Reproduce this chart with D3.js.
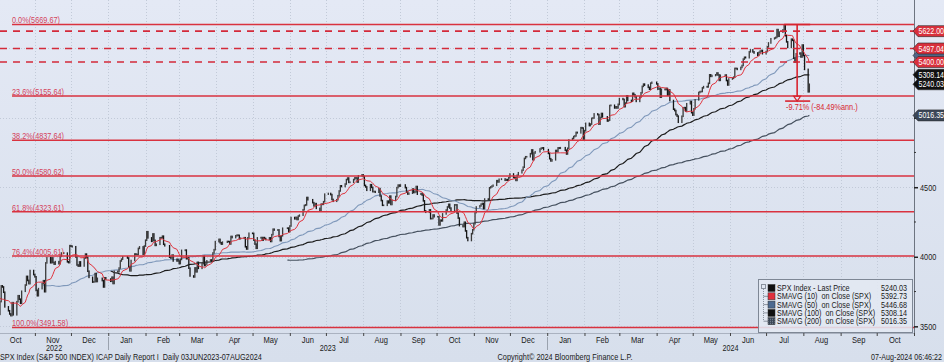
<!DOCTYPE html>
<html><head><meta charset="utf-8">
<script src="https://cdn.jsdelivr.net/npm/d3@7"></script>
<style>
html,body{margin:0;padding:0;background:#dde4f0;overflow:hidden;}
svg{display:block;font-family:"Liberation Sans",Arial,sans-serif;}
svg text{white-space:pre;}
</style></head><body>
<svg id="chart" width="944" height="362"></svg>
<script>
// ---------------- DATA (S&P 500 daily closes, by month) ----------------
const c2022_08 = [4119,4091,4155,4152,4145,4140,4122,4210,4207,4280,4297,4305,4275,4284,4228,4138,4128,4141,4199,4058,4031,3986,3955];
const c2022_09 = [3967,3924,3909,3980,4006,4067,4110,3933,3946,3901,3873,3900,3856,3789,3758,3693,3655,3647,3719,3640,3586];
const c2022_10 = [3678,3791,3783,3745,3640,3612,3589,3577,3670,3583,3677,3720,3695,3666,3752,3797,3859,3830,3807,3901,3872];
const c2022_11 = [3856,3759,3720,3771,3807,3828,3749,3956,3993,3957,3992,3959,3947,3965,3950,4003,4027,4026,3964,3958,4080];
const c2022_12 = [4076,4072,3999,3941,3933,3963,3934,3991,4019,3996,3896,3852,3818,3821,3879,3822,3845,3829,3783,3849,3840];
const c2023_01 = [3824,3853,3808,3895,3893,3919,3970,3983,3999,3991,3929,3899,3973,4020,4017,4016,4060,4071,4018,4077];
const c2023_02 = [4119,4180,4136,4111,4164,4118,4082,4090,4137,4136,4148,4090,4079,3997,3991,4012,3970,3982,3970];
const c2023_03 = [3951,3981,4046,4048,3986,3992,3918,3862,3855,3920,3892,3960,3917,3951,4003,3937,3948,3971,3977,3971,4027,4051,4109];
const c2023_04 = [4125,4101,4091,4105,4110,4109,4092,4146,4138,4151,4155,4154,4130,4133,4137,4072,4056,4136,4169];
const c2023_05 = [4168,4120,4091,4061,4136,4138,4119,4138,4131,4124,4136,4110,4159,4198,4192,4193,4146,4116,4151,4205,4206,4180];
const c2023_06 = [4221,4282,4273,4283,4268,4293,4299,4338,4369,4373,4426,4410,4389,4366,4382,4348,4328,4378,4377,4396,4450];
const c2023_07 = [4455,4447,4412,4399,4410,4439,4473,4510,4505,4523,4555,4566,4535,4536,4555,4567,4566,4537,4582,4589];
const c2023_08 = [4577,4513,4502,4478,4518,4499,4468,4469,4464,4490,4437,4404,4370,4370,4400,4388,4436,4376,4406,4433,4497,4515,4508];
const c2023_09 = [4516,4497,4465,4451,4457,4487,4462,4467,4505,4450,4454,4444,4402,4330,4320,4337,4274,4275,4300,4288];
const c2023_10 = [4288,4229,4263,4258,4308,4336,4358,4377,4350,4327,4373,4373,4314,4278,4224,4217,4248,4186,4137,4117,4166,4194];
const c2023_11 = [4237,4318,4358,4366,4378,4383,4347,4415,4411,4496,4502,4508,4514,4547,4538,4557,4559,4550,4555,4551,4568];
const c2023_12 = [4595,4570,4567,4549,4586,4604,4622,4644,4707,4719,4719,4741,4768,4698,4746,4755,4775,4781,4783,4770];
const c2024_01 = [4743,4705,4689,4697,4764,4757,4783,4780,4784,4766,4739,4780,4840,4850,4864,4869,4894,4891,4928,4925,4846];
const c2024_02 = [4906,4959,4943,4954,4995,4998,5027,5022,4953,5001,5030,5006,4976,4982,5087,5089,5070,5078,5070,5096];
const c2024_03 = [5137,5131,5079,5105,5157,5124,5118,5175,5165,5150,5117,5149,5179,5225,5241,5234,5218,5204,5248,5254];
const c2024_04 = [5243,5205,5211,5147,5204,5202,5210,5161,5199,5123,5061,5051,5022,5011,4967,5010,5070,5072,5048,5100,5116,5036];
const c2024_05 = [5018,5064,5128,5181,5187,5188,5214,5223,5221,5247,5308,5297,5303,5308,5321,5307,5268,5305,5306,5267,5235,5278];
const c2024_06 = [5283,5291,5354,5353,5347,5361,5375,5421,5434,5431,5473,5487,5473,5465,5448,5469,5478,5483,5460];
const c2024_07 = [5475,5509,5537,5567,5572,5577,5633,5585,5615,5631,5667,5589,5545,5505,5564,5556,5427,5399,5459,5464,5436,5522];
const c2024_08 = [5446,5347,5186,5240.03];

const monthKeys = ["2022-08","2022-09","2022-10","2022-11","2022-12","2023-01","2023-02","2023-03","2023-04","2023-05","2023-06","2023-07","2023-08","2023-09","2023-10","2023-11","2023-12","2024-01","2024-02","2024-03","2024-04","2024-05","2024-06","2024-07","2024-08"];
const monthCloses = [c2022_08,c2022_09,c2022_10,c2022_11,c2022_12,c2023_01,c2023_02,c2023_03,c2023_04,c2023_05,c2023_06,c2023_07,c2023_08,c2023_09,c2023_10,c2023_11,c2023_12,c2024_01,c2024_02,c2024_03,c2024_04,c2024_05,c2024_06,c2024_07,c2024_08];
const holidays = ["2022-09-05","2022-11-24","2022-12-26","2023-01-02","2023-01-16","2023-02-20","2023-04-07","2023-05-29","2023-06-19","2023-07-04","2023-09-04","2023-11-23","2023-12-25","2024-01-01","2024-01-15","2024-02-19","2024-03-29","2024-05-27","2024-06-19","2024-07-04"];

// moving averages: periods and first displayed date
const smaPeriods = [10, 50, 100, 200];
const smaStarts  = ["2022-10-03","2022-11-08","2023-01-03","2023-05-30"];

// Fibonacci retracement
const fibPcts   = ["0.0%","23.6%","38.2%","50.0%","61.8%","76.4%","100.0%"];
const fibLevels = [5669.67,5155.64,4837.64,4580.62,4323.61,4005.61,3491.58];
// dashed horizontal levels
const dashLevels = [5622.00,5497.04,5400.00];

// legend
const legendNames  = ["SPX Index - Last Price","SMAVG (10)  on Close (SPX)","SMAVG (50)  on Close (SPX)","SMAVG (100)  on Close (SPX)","SMAVG (200)  on Close (SPX)"];
const legendValues = [5240.03,5392.73,5446.68,5308.14,5016.35];

// axes
const xStart = "2022-10-03", xEnd = "2024-11-01";
const yTicks = [3500,4000,4500,5000,5500];
const yLabelled = [3500,4000,4500];
const yMinor = [3750,4250,4750,5250];

// measurement annotation
const moveFromDate = "2024-07-16", moveToDate = "2024-08-05";
const moveFrom = 5669.67, movePct = -9.71, moveAnn = -84.49;

// footer texts
const footLeft = "SPX Index (S&P 500 INDEX) ICAP Daily Report I  Daily 03JUN2023-07AUG2024";
const footMid = "Copyright\u00A9 2024 Bloomberg Finance L.P.";
const footRight = "07-Aug-2024 06:46:22";

// ---------------- BUILD ----------------
const W = 944, H = 362, plotR = 914, plotB = 333;
const K = 0.77; // horizontal condensing of the Bloomberg-like narrow font
const parse = d3.utcParse("%Y-%m-%d");
const fmtKey = d3.utcFormat("%Y-%m-%d");
const holidaySet = new Set(holidays);
const series = [];
monthKeys.forEach((ym, k) => {
  const vals = monthCloses[k];
  const [yy, mm] = ym.split("-").map(Number);
  const d = new Date(Date.UTC(yy, mm - 1, 1));
  let i = 0;
  while (i < vals.length && d.getUTCMonth() === mm - 1) {
    const dow = d.getUTCDay();
    if (dow !== 0 && dow !== 6 && !holidaySet.has(fmtKey(d))) {
      series.push({date: new Date(d), close: vals[i]}); i++;
    }
    d.setUTCDate(d.getUTCDate() + 1);
  }
});

function sma(n, startKey) {
  const st = parse(startKey), out = [];
  for (let i = n - 1; i < series.length; i++) {
    if (series[i].date < st) continue;
    out.push({date: series[i].date, v: d3.mean(series.slice(i - n + 1, i + 1), d => d.close)});
  }
  return out;
}
// horizontally squeeze a text with a transform (k = factor, or w = target width)
function squeeze(sel, k, w) {
  sel.each(function () {
    const t = d3.select(this);
    const px = +t.attr("x") || 0, py = +t.attr("y") || 0;
    const f = w ? w / this.getComputedTextLength() : k;
    t.attr("x", 0).attr("y", 0).attr("transform", `translate(${px},${py}) scale(${f},1)`);
  });
}

const x = d3.scaleUtc().domain([parse(xStart), parse(xEnd)]).range([0, plotR]);
const y = d3.scaleLinear().domain([fibLevels[6], fibLevels[0]]).range([327.5, 24.5]);

const svg = d3.select("#chart");
const defs = svg.append("defs");
const grad = defs.append("linearGradient").attr("id","bg").attr("x1",0).attr("y1",0).attr("x2",0).attr("y2",1);
grad.append("stop").attr("offset","0%").attr("stop-color","#e4e9f5");
grad.append("stop").attr("offset","100%").attr("stop-color","#d7dfec");
defs.append("clipPath").attr("id","clip").append("rect").attr("x",0).attr("y",0).attr("width",plotR).attr("height",plotB);
const pat = defs.append("pattern").attr("id","hatch").attr("width",2).attr("height",2).attr("patternUnits","userSpaceOnUse");
pat.append("rect").attr("width",2).attr("height",2).attr("fill","#3b4757");
pat.append("rect").attr("width",1).attr("height",1).attr("fill","#7d8898");

svg.append("rect").attr("width",W).attr("height",H).attr("fill","url(#bg)");

const plot = svg.append("g").attr("clip-path","url(#clip)");

// grid
const months = x.ticks(d3.utcMonth.every(1));
plot.append("g").selectAll("line").data(months).join("line")
  .attr("x1", d => Math.round(x(d)) + 0.5).attr("x2", d => Math.round(x(d)) + 0.5)
  .attr("y1", 0).attr("y2", plotB)
  .attr("stroke", "#c2cad8").attr("stroke-width", 1).attr("stroke-dasharray", "1,2");
plot.append("g").selectAll("line").data(yTicks).join("line")
  .attr("x1", 0).attr("x2", plotR)
  .attr("y1", d => Math.round(y(d)) + 0.5).attr("y2", d => Math.round(y(d)) + 0.5)
  .attr("stroke", "#c2cad8").attr("stroke-width", 1).attr("stroke-dasharray", "1,2");

// moving averages (behind candles)
const line = d3.line().x(d => x(d.date)).y(d => y(d.v));
const smaColors = ["#e0323c", "#7f98ba", "#1c1c1c", "#46515f"];
const smaWidths = [1, 1.1, 1.2, 1.2];
const smaData = smaPeriods.map((p, i) => sma(p, smaStarts[i]));
[3, 2, 1].forEach(i => {
  plot.append("path").datum(smaData[i]).attr("d", line).attr("fill","none")
    .attr("stroke", smaColors[i]).attr("stroke-width", smaWidths[i]);
});

// candles (open taken as previous close)
const candles = series.slice(1).map((d, i) => ({date: d.date, o: series[i].close, c: d.close}));
plot.append("g").selectAll("rect").data(candles).join("rect")
  .attr("x", d => x(d.date) - 0.65).attr("width", 1.3)
  .attr("y", d => Math.min(y(d.o), y(d.c)) - 0.8)
  .attr("height", d => Math.abs(y(d.o) - y(d.c)) + 1.6)
  .attr("fill", d => d.c >= d.o ? "#3a3a3a" : "#161616");

// 10 SMA on top of candles
plot.append("path").datum(smaData[0]).attr("d", line).attr("fill","none")
  .attr("stroke", smaColors[0]).attr("stroke-width", smaWidths[0]);

// dashed levels
plot.append("g").selectAll("line").data(dashLevels).join("line")
  .attr("x1", 0).attr("x2", plotR).attr("y1", d => y(d)).attr("y2", d => y(d))
  .attr("stroke", "#d42a3a").attr("stroke-width", 1.6).attr("stroke-dasharray", "7,6");

// fib lines
const fibX0 = x(parse("2022-10-13"));
plot.append("g").selectAll("line").data(fibLevels).join("line")
  .attr("x1", fibX0).attr("x2", plotR).attr("y1", d => y(d)).attr("y2", d => y(d))
  .attr("stroke", "#d9323f").attr("stroke-width", 1.6);
plot.append("g").selectAll("text").data(fibLevels).join("text")
  .attr("x", fibX0).attr("y", d => y(d) - 1.2)
  .attr("font-size", 9.5).attr("fill", "#d4435c")
  .text((d, i) => fibPcts[i] + "(" + d.toFixed(2) + ")")
  .call(squeeze, K);

// measurement annotation
const mx0 = x(parse(moveFromDate)), mx1 = x(parse(moveToDate)) + 2;
const mxm = (mx0 + mx1) / 2;
const moveTo = moveFrom * (1 + movePct / 100);
const ann = svg.append("g").attr("stroke", "#d8242f").attr("stroke-width", 1.6).attr("fill", "none");
ann.append("line").attr("x1", mx0).attr("x2", mx1).attr("y1", y(moveFrom)).attr("y2", y(moveFrom));
ann.append("line").attr("x1", mxm).attr("x2", mxm).attr("y1", y(moveFrom)).attr("y2", y(moveTo) - 4);
ann.append("path").attr("d", `M${mxm-3.5},${y(moveTo)-5}L${mxm+3.5},${y(moveTo)-5}L${mxm},${y(moveTo)}Z`).attr("stroke-width",1.2);
ann.append("line").attr("x1", mx0 + 1).attr("x2", mx1).attr("y1", y(moveTo)).attr("y2", y(moveTo));
svg.append("text").attr("x", mx0 + 2).attr("y", y(moveTo) + 9).attr("font-size", 9.5).attr("fill", "#d8242f")
  .text(movePct.toFixed(2) + "% (" + moveAnn.toFixed(2) + "%ann.)").call(squeeze, K);

// right axis
svg.append("line").attr("x1", plotR + 0.5).attr("x2", plotR + 0.5).attr("y1", 0).attr("y2", plotB)
  .attr("stroke", "#6d7480").attr("stroke-width", 1);
const yAxis = svg.append("g").attr("transform", `translate(${plotR},0)`)
  .call(d3.axisRight(y).tickValues(yTicks).tickSize(4).tickPadding(2)
    .tickFormat(d => yLabelled.includes(d) ? d3.format("d")(d) : ""));
yAxis.select(".domain").remove();
yAxis.selectAll("line").attr("stroke", "#222").attr("stroke-width", 1.5);
yAxis.selectAll("text").attr("font-size", 9.5).attr("fill", "#1a1a1a").attr("font-family", null)
  .filter(function () { return this.textContent !== ""; }).call(squeeze, K);
svg.append("g").selectAll("line").data(yMinor).join("line")
  .attr("x1", plotR).attr("x2", plotR + 2).attr("y1", d => y(d)).attr("y2", d => y(d))
  .attr("stroke", "#333");

// right tags (the 50-day tag is mostly hidden behind the level tags)
const tagOrder = [
  {v: legendValues[4], fill: "#3c4859", label: true},
  {v: legendValues[0], fill: "#111", label: true},
  {v: legendValues[3], fill: "#111", label: true},
  {v: legendValues[2], fill: "#4e6688", label: false},
  {v: dashLevels[0], fill: "#d8303c", label: true},
  {v: dashLevels[1], fill: "#d8303c", label: true},
  {v: dashLevels[2], fill: "#d8303c", label: true}
];
const tags = svg.append("g").selectAll("g").data(tagOrder).join("g")
  .attr("transform", d => `translate(${plotR},${y(d.v)})`);
tags.append("path").attr("d", "M-1,0L4,-5.5L32,-5.5L32,5.5L4,5.5Z")
  .attr("fill", d => d.fill).attr("stroke", "#2a2a2a").attr("stroke-width", 0.6);
tags.filter(d => d.label).append("text").attr("x", 4.5).attr("y", 3.1).attr("font-size", 8.4).attr("fill", "#fff")
  .text(d => d.v.toFixed(2)).call(squeeze, 0.84);

// bottom axis
svg.append("line").attr("x1", 0).attr("x2", plotR).attr("y1", plotB + 0.5).attr("y2", plotB + 0.5)
  .attr("stroke", "#aab2c0");
const xAxis = svg.append("g").attr("transform", `translate(0,${plotB})`)
  .call(d3.axisBottom(x).ticks(d3.utcMonth.every(1)).tickSize(3).tickFormat(""));
xAxis.select(".domain").remove();
xAxis.selectAll("line").attr("stroke", "#444");
const monthLabelDates = d3.utcMonths(parse("2022-10-01"), parse("2024-11-01"));
svg.append("g").selectAll("text").data(monthLabelDates).join("text")
  .attr("x", d => x(d3.utcDay.offset(d, 15))).attr("y", 342.5)
  .attr("text-anchor", "middle").attr("font-size", 9.2).attr("fill", "#1a1a1a")
  .text(d => d3.utcFormat("%b")(d)).call(squeeze, 0.82);
// years
const yearSpans = [["2022", parse(xStart), parse("2023-01-01")], ["2023", parse("2023-01-01"), parse("2024-01-01")], ["2024", parse("2024-01-01"), parse(xEnd)]];
svg.append("g").selectAll("text").data(yearSpans).join("text")
  .attr("x", d => (x(d[1]) + x(d[2])) / 2).attr("y", 350.5)
  .attr("text-anchor", "middle").attr("font-size", 8.6).attr("fill", "#1a1a1a").text(d => d[0]).call(squeeze, 0.84);
svg.append("g").selectAll("line").data([parse("2023-01-01"), parse("2024-01-01")]).join("line")
  .attr("x1", d => Math.round(x(d)) + 0.5).attr("x2", d => Math.round(x(d)) + 0.5)
  .attr("y1", 337).attr("y2", 350).attr("stroke", "#9aa2ae");

// footer
svg.append("text").attr("x", 0).attr("y", 360).attr("font-size", 8.6).attr("fill", "#1a1a1a").text(footLeft)
  .call(squeeze, null, 262);
svg.append("text").attr("x", 565).attr("y", 360).attr("text-anchor","middle").attr("font-size", 8.6).attr("fill", "#1a1a1a").text(footMid)
  .call(squeeze, null, 135);
svg.append("text").attr("x", 942).attr("y", 360).attr("text-anchor","end").attr("font-size", 8.6).attr("fill", "#1a1a1a").text(footRight)
  .call(squeeze, null, 71);

// legend
const lg = svg.append("g").attr("transform", "translate(758,279)");
lg.append("rect").attr("x", 0.5).attr("y", 0.5).attr("width", 154).attr("height", 53)
  .attr("fill", "#e2e8f3").attr("fill-opacity", 0.88).attr("stroke", "#7e8795");
lg.append("rect").attr("x", 3.5).attr("y", 5.5).attr("width", 4).attr("height", 4).attr("fill", "none").attr("stroke", "#8a929e");
lg.append("line").attr("x1", 5.5).attr("x2", 5.5).attr("y1", 10).attr("y2", 42).attr("stroke", "#8a929e").attr("stroke-dasharray", "1,1");
const legendFill = ["#111", "#e0303c", "#4d6a90", "#111", "url(#hatch)"];
const rows = lg.selectAll("g.row").data(legendNames).join("g").attr("class","row")
  .attr("transform", (d, i) => `translate(0,${9 + i * 8.3})`);
rows.filter((d, i) => i > 0).append("line").attr("x1", 5.5).attr("x2", 10).attr("y1", 0).attr("y2", 0).attr("stroke", "#8a929e");
rows.append("rect").attr("x", 10).attr("y", -3.5).attr("width", 7).attr("height", 7)
  .attr("fill", (d, i) => legendFill[i]).attr("stroke", "#333").attr("stroke-width", 0.5);
rows.append("text").attr("x", 19).attr("y", 3).attr("font-size", 8.6).attr("fill", "#1a1a1a").text(d => d).call(squeeze, 0.84);
rows.append("text").attr("x", 149).attr("y", 3).attr("text-anchor", "end").attr("font-size", 8.6).attr("fill", "#1a1a1a")
  .text((d, i) => legendValues[i].toFixed(2)).call(squeeze, 0.84);
</script>
</body></html>
